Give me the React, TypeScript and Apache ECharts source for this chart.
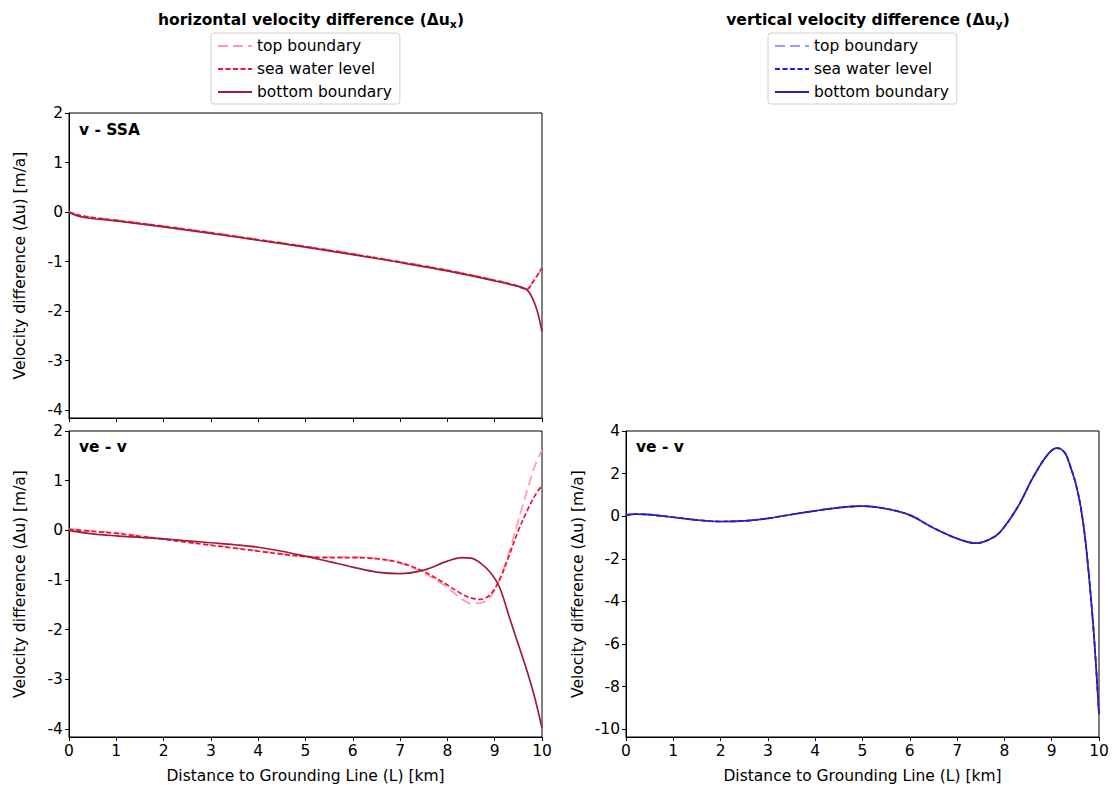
import React, { useEffect, useRef } from "react";
import * as echarts from "echarts";

// ---------- data ----------
const xTicks = [0, 1, 2, 3, 4, 5, 6, 7, 8, 9, 10];
const yTicksLeft = [-4, -3, -2, -1, 0, 1, 2];
const yTicksRight = [-10, -8, -6, -4, -2, 0, 2, 4];

// top-left panel: v - SSA, horizontal
const xSSA = [0, 0.15, 0.4, 1, 2, 3, 4, 5, 6, 7, 8, 9, 9.4, 9.68, 9.8, 9.9, 10];
const ssaBottom = [0, -0.07, -0.12, -0.18, -0.3, -0.43, -0.57, -0.71, -0.86, -1.02, -1.19, -1.39, -1.48, -1.57, -1.75, -2.0, -2.42];
const ssaSea = [-0.01, -0.05, -0.1, -0.17, -0.29, -0.42, -0.56, -0.7, -0.85, -1.01, -1.18, -1.38, -1.47, -1.56, -1.42, -1.28, -1.13];
const ssaTop = [0.01, -0.04, -0.09, -0.16, -0.28, -0.41, -0.55, -0.69, -0.84, -1.0, -1.17, -1.37, -1.46, -1.55, -1.43, -1.29, -1.12];

// bottom-left panel: ve - v, horizontal
const xVeH = [0, 0.5, 1, 1.5, 2, 2.5, 3, 3.5, 4, 4.5, 5, 5.5, 6, 6.5, 7, 7.5, 8, 8.3, 8.5, 8.7, 8.9, 9.1, 9.3, 9.5, 9.7, 9.85, 10];
const veHBottom = [0, -0.07, -0.11, -0.14, -0.17, -0.21, -0.25, -0.29, -0.34, -0.42, -0.52, -0.63, -0.74, -0.84, -0.87, -0.8, -0.62, -0.55, -0.56, -0.66, -0.84, -1.14, -1.72, -2.3, -2.88, -3.38, -3.98];
const veHSea = [0.02, -0.02, -0.06, -0.12, -0.18, -0.24, -0.3, -0.36, -0.42, -0.48, -0.53, -0.55, -0.55, -0.57, -0.65, -0.83, -1.1, -1.28, -1.36, -1.39, -1.3, -1.0, -0.52, 0.0, 0.42, 0.7, 0.9];
const veHTop = [0.03, -0.01, -0.05, -0.11, -0.17, -0.23, -0.29, -0.35, -0.41, -0.47, -0.52, -0.54, -0.54, -0.57, -0.66, -0.86, -1.15, -1.38, -1.47, -1.46, -1.35, -1.0, -0.45, 0.2, 0.85, 1.3, 1.62];

// bottom-right panel: ve - v, vertical (all three boundaries coincide)
const xVeV = [0, 0.2, 0.5, 1, 1.5, 2, 2.5, 3, 3.5, 4, 4.5, 5, 5.5, 6, 6.5, 7, 7.4, 7.8, 8, 8.3, 8.6, 8.9, 9.1, 9.2, 9.3, 9.4, 9.5, 9.6, 9.7, 9.8, 9.9, 10];
const veV = [0.05, 0.1, 0.07, -0.05, -0.18, -0.25, -0.22, -0.1, 0.08, 0.25, 0.4, 0.47, 0.35, 0.05, -0.55, -1.05, -1.27, -0.95, -0.5, 0.5, 1.8, 2.85, 3.2, 3.15, 2.9, 2.3, 1.6, 0.6, -0.9, -3.1, -5.8, -9.3];

const legendNames = ["top boundary", "sea water level", "bottom boundary"];

const FONT = "DejaVu Sans";
const FS = 15.5;
const pairs = (xs: number[], ys: number[]) => xs.map((x, i) => [x, ys[i]]);

export default function App() {
  const ref = useRef<HTMLDivElement>(null);
  useEffect(() => {
    if (!ref.current) return;
    const chart = echarts.init(ref.current, null, { renderer: "svg" });

    const xAxisBase = (gridIndex: number, showLabel: boolean) => ({
      type: "value",
      gridIndex,
      min: 0,
      max: 10,
      interval: 1,
      axisLine: { show: true, onZero: false, lineStyle: { color: "#000", width: 1 } },
      axisTick: { show: true, length: 4, lineStyle: { color: "#000" } },
      axisLabel: { show: showLabel, color: "#000", fontSize: FS, fontFamily: FONT, margin: 6 },
      splitLine: { show: false },
      name: showLabel ? "Distance to Grounding Line (L) [km]" : "",
      nameLocation: "middle",
      nameGap: 31,
      nameTextStyle: { color: "#000", fontSize: FS, fontFamily: FONT },
    });
    const yAxisBase = (gridIndex: number, min: number, max: number, ticks: number[]) => ({
      type: "value",
      gridIndex,
      min,
      max,
      axisLine: { show: true, onZero: false, lineStyle: { color: "#000", width: 1 } },
      axisTick: { show: true, length: 4, lineStyle: { color: "#000" }, customValues: ticks },
      axisLabel: { color: "#000", fontSize: FS, fontFamily: FONT, margin: 6, customValues: ticks },
      splitLine: { show: false },
      name: "Velocity difference (Δu) [m/a]",
      nameLocation: "middle",
      nameGap: ticks === yTicksRight ? 40 : 41,
      nameTextStyle: { color: "#000", fontSize: FS, fontFamily: FONT },
    });

    const line = (name: string, data: number[][], axis: number, color: string, type: any, width: number, z: number) => ({
      type: "line",
      name,
      data,
      xAxisIndex: axis,
      yAxisIndex: axis,
      showSymbol: false,
      symbol: "none",
      smooth: 0.35,
      z,
      lineStyle: { color, type, width },
      itemStyle: { color },
    });

    const redTop = "#ff9aa9";
    const redSea = "#ee1136";
    const redBot = "#9c1d3c";
    const blueTop = "#9a9aff";
    const blueSea = "#1a1af0";
    const blueBot = "#2a22a8";
    const dashTop = [10, 5];
    const dashSea = [5, 2.5];

    const legendCommon = {
      orient: "vertical",
      backgroundColor: "#fff",
      borderColor: "#d0d0d0",
      borderWidth: 1,
      borderRadius: 3,
      padding: [5, 8, 4, 6],
      itemWidth: 34,
      itemHeight: 14,
      itemGap: 7,
      itemStyle: { opacity: 0 },
      textStyle: { color: "#000", fontSize: FS, fontFamily: FONT },
      selectedMode: false,
    };

    const titleRich = {
      b: { fontSize: FS, fontWeight: "bold", fontFamily: FONT, color: "#000" },
      s: { fontSize: 11, fontWeight: "bold", fontFamily: FONT, color: "#000", padding: [9, 0, 0, 0] },
    };

    chart.setOption({
      animation: false,
      backgroundColor: "#fff",
      title: [
        { text: "{b|horizontal velocity difference (Δu}{s|x}{b|)}", left: 306, top: 5, textAlign: "center", textStyle: { rich: titleRich } },
        { text: "{b|vertical velocity difference (Δu}{s|y}{b|)}", left: 863, top: 5, textAlign: "center", textStyle: { rich: titleRich } },
      ],
      legend: [
        { ...legendCommon, left: 211, top: 33, data: legendNames },
        {
          ...legendCommon,
          left: 768,
          top: 33,
          data: ["top boundary y", "sea water level y", "bottom boundary y"],
          formatter: (n: string) => n.replace(/ y$/, ""),
        },
      ],
      grid: [
        { left: 69, top: 113, width: 473, height: 305, show: true, borderColor: "#000", borderWidth: 1, backgroundColor: "transparent" },
        { left: 69, top: 431, width: 473, height: 306, show: true, borderColor: "#000", borderWidth: 1, backgroundColor: "transparent" },
        { left: 626, top: 431, width: 473, height: 306, show: true, borderColor: "#000", borderWidth: 1, backgroundColor: "transparent" },
      ],
      xAxis: [xAxisBase(0, false), xAxisBase(1, true), xAxisBase(2, true)],
      yAxis: [
        yAxisBase(0, -4.16, 2, yTicksLeft),
        yAxisBase(1, -4.16, 2, yTicksLeft),
        yAxisBase(2, -10.37, 4, yTicksRight),
      ],
      graphic: [
        { type: "text", left: 79, top: 122, style: { text: "v - SSA", fontSize: FS, fontWeight: "bold", fontFamily: FONT, fill: "#000" } },
        { type: "text", left: 79, top: 439, style: { text: "ve - v", fontSize: FS, fontWeight: "bold", fontFamily: FONT, fill: "#000" } },
        { type: "text", left: 636, top: 439, style: { text: "ve - v", fontSize: FS, fontWeight: "bold", fontFamily: FONT, fill: "#000" } },
      ],
      series: [
        line("top boundary", pairs(xSSA, ssaTop), 0, redTop, dashTop, 1.7, 2),
        line("sea water level", pairs(xSSA, ssaSea), 0, redSea, dashSea, 1.7, 3),
        line("bottom boundary", pairs(xSSA, ssaBottom), 0, redBot, "solid", 1.7, 4),
        line("top boundary", pairs(xVeH, veHTop), 1, redTop, dashTop, 1.7, 2),
        line("sea water level", pairs(xVeH, veHSea), 1, redSea, dashSea, 1.7, 3),
        line("bottom boundary", pairs(xVeH, veHBottom), 1, redBot, "solid", 1.7, 4),
        line("top boundary y", pairs(xVeV, veV), 2, blueTop, dashTop, 1.7, 2),
        line("sea water level y", pairs(xVeV, veV), 2, blueSea, dashSea, 1.7, 3),
        line("bottom boundary y", pairs(xVeV, veV), 2, blueBot, "solid", 1.7, 4),
      ],
    });
    return () => chart.dispose();
  }, []);
  return <div ref={ref} style={{ position: "fixed", left: 0, top: 0, width: 1117, height: 789 }} />;
}
